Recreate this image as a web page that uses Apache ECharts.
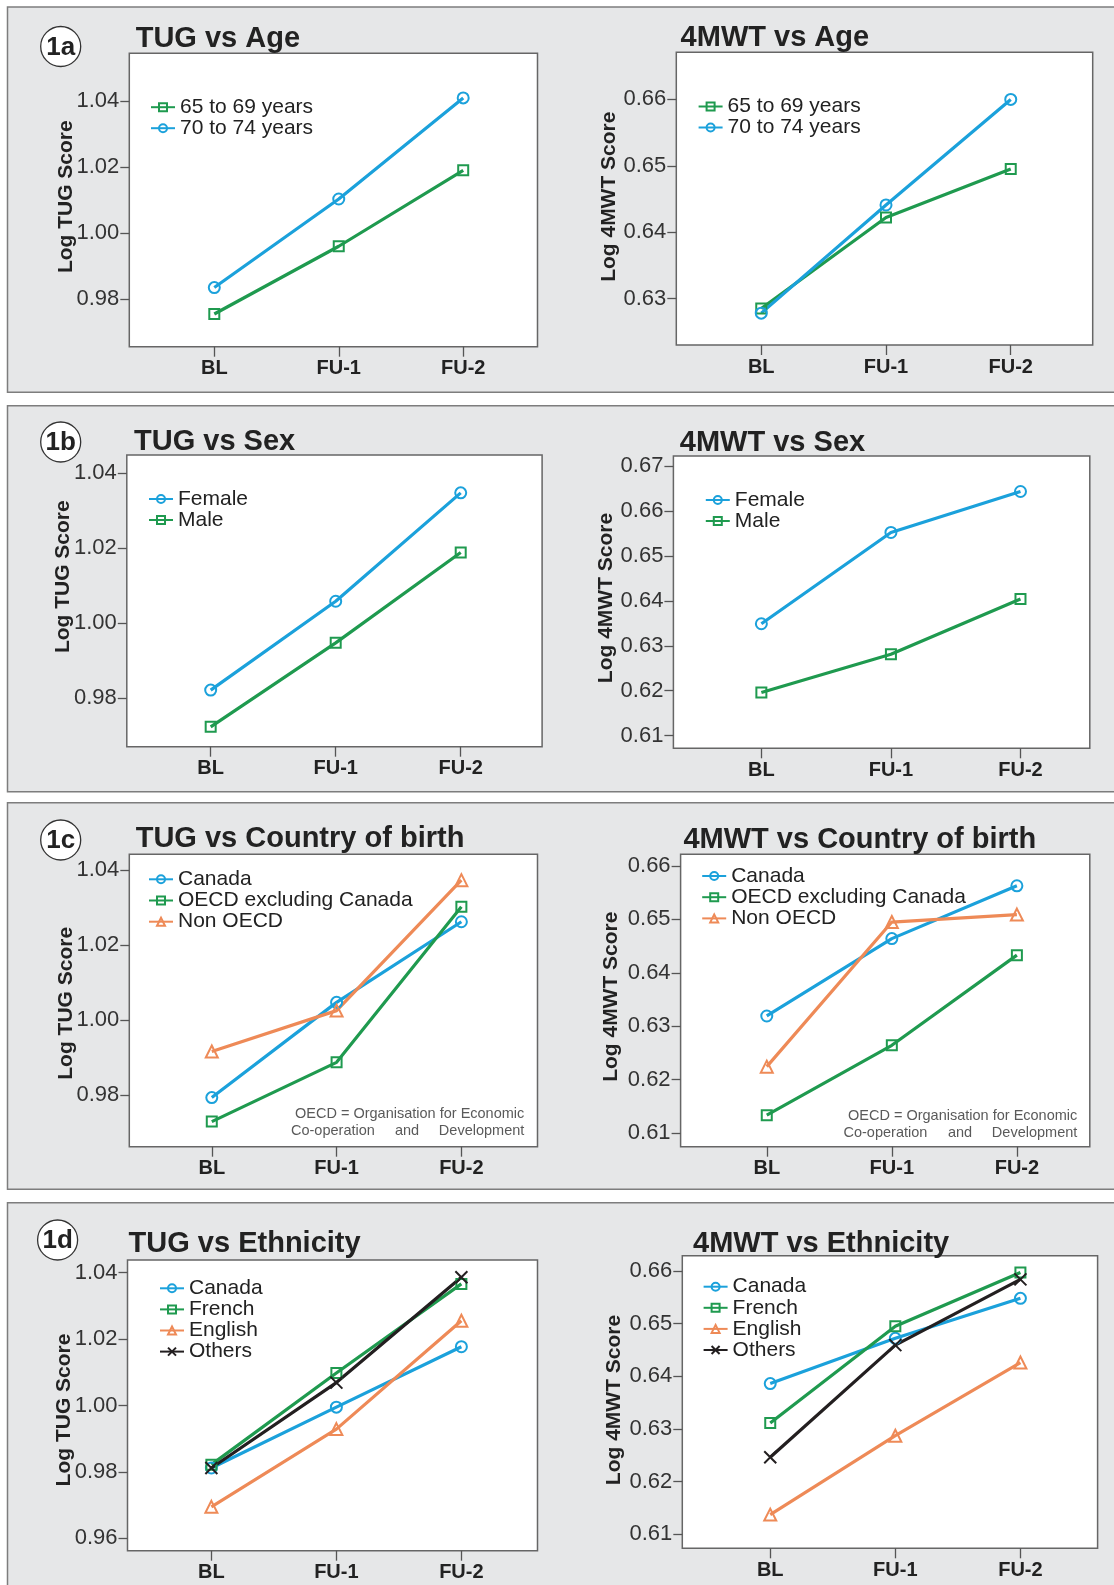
<!DOCTYPE html>
<html>
<head>
<meta charset="utf-8">
<script src="https://cdn.jsdelivr.net/npm/echarts@6/dist/echarts.min.js"></script>
<style>html,body{margin:0;padding:0;background:#fff}#c{width:1114px;height:1585px}</style>
</head>
<body>
<div id="c"></div>
<script>
// ---------- data ----------
const categories = ['BL', 'FU-1', 'FU-2'];

const tugAge65 = [0.9755, 0.9960, 1.0190];
const tugAge70 = [0.9835, 1.0103, 1.0409];
const mwtAge65 = [0.6285, 0.6422, 0.6495];
const mwtAge70 = [0.6278, 0.6441, 0.6600];

const tugSexFemale = [0.9822, 1.0059, 1.0348];
const tugSexMale = [0.9724, 0.9948, 1.0189];
const mwtSexFemale = [0.6349, 0.6552, 0.6643];
const mwtSexMale = [0.6196, 0.6281, 0.6404];

const tugCobCanada = [0.9793, 1.0047, 1.0262];
const tugCobOecd = [0.9729, 0.9887, 1.0302];
const tugCobNonOecd = [0.9916, 1.0025, 1.0373];
const mwtCobCanada = [0.6319, 0.6464, 0.6563];
const mwtCobOecd = [0.6133, 0.6264, 0.6433];
const mwtCobNonOecd = [0.6224, 0.6495, 0.6509];

const tugEthCanada = [0.9812, 0.9995, 1.0177];
const tugEthFrench = [0.9822, 1.0098, 1.0366];
const tugEthEnglish = [0.9695, 0.9929, 1.0255];
const tugEthOthers = [0.9812, 1.0069, 1.0386];
const mwtEthCanada = [0.6386, 0.6472, 0.6548];
const mwtEthFrench = [0.6311, 0.6495, 0.6597];
const mwtEthEnglish = [0.6137, 0.6287, 0.6426];
const mwtEthOthers = [0.6246, 0.6459, 0.6584];

const tugTicksA = [0.98, 1.00, 1.02, 1.04];
const tugTicksD = [0.96, 0.98, 1.00, 1.02, 1.04];
const mwtTicksAge = [0.63, 0.64, 0.65, 0.66];
const mwtTicksSex = [0.61, 0.62, 0.63, 0.64, 0.65, 0.66, 0.67];
const mwtTicksCob = [0.61, 0.62, 0.63, 0.64, 0.65, 0.66];
const mwtTicksEth = [0.61, 0.62, 0.63, 0.64, 0.65, 0.66];

// ---------- styles / layout ----------
const FONT = '"Liberation Sans", Arial, Helvetica, sans-serif';
const COL = {blue: '#1ba1db', green: '#1f9a4f', orange: '#ee8a57', black: '#231f20'};
const SYM = {circle: 'circle', square: 'rect', triangle: 'triangle', cross: 'path://M0,0L10,10M10,0L0,10'};
const SYMSIZE = {circle: 11, square: 10, triangle: 12, cross: 12};

const plots = [
  {grid: [129.3, 53.3, 408.2, 293.4], x: [-0.683, 2.597], y: [0.9656, 1.0544], ticks: tugTicksA,
   series: [['65 to 69 years', tugAge65, 'green', 'square'], ['70 to 74 years', tugAge70, 'blue', 'circle']],
   legend: [150, 106.7, 20], title: ['TUG vs Age', 135.7, 36.7], yname: ['Log TUG Score', 66, 196.7]},
  {grid: [676.3, 52.3, 416.4, 292.7], x: [-0.681, 2.657], y: [0.6230, 0.6671], ticks: mwtTicksAge,
   series: [['65 to 69 years', mwtAge65, 'green', 'square'], ['70 to 74 years', mwtAge70, 'blue', 'circle']],
   legend: [697.6, 106, 20], title: ['4MWT vs Age', 680.6, 36.2], yname: ['Log 4MWT Score', 609.4, 196.7]},
  {grid: [126.8, 455, 415.3, 291.7], x: [-0.671, 2.651], y: [0.9671, 1.0449], ticks: tugTicksA,
   series: [['Female', tugSexFemale, 'blue', 'circle'], ['Male', tugSexMale, 'green', 'square']],
   legend: [148, 499, 21], title: ['TUG vs Sex', 134, 440], yname: ['Log TUG Score', 63.6, 576.7]},
  {grid: [673.4, 456, 416.4, 292.3], x: [-0.679, 2.535], y: [0.6072, 0.6722], ticks: mwtTicksSex,
   series: [['Female', mwtSexFemale, 'blue', 'circle'], ['Male', mwtSexMale, 'green', 'square']],
   legend: [704.8, 500, 21], title: ['4MWT vs Sex', 679.8, 441], yname: ['Log 4MWT Score', 605.8, 598]},
  {grid: [129.3, 854.3, 408.2, 292.4], x: [-0.661, 2.610], y: [0.9662, 1.0442], ticks: tugTicksA,
   series: [['Canada', tugCobCanada, 'blue', 'circle'], ['OECD excluding Canada', tugCobOecd, 'green', 'square'], ['Non OECD', tugCobNonOecd, 'orange', 'triangle']],
   legend: [148, 879.3, 21.2], title: ['TUG vs Country of birth', 135.7, 836.7], yname: ['Log TUG Score', 66, 1003.3],
   note: [291, 407, 524.3, 1114.3, 1131]},
  {grid: [680.6, 854.3, 409.2, 292.4], x: [-0.689, 2.583], y: [0.6074, 0.6622], ticks: mwtTicksCob,
   series: [['Canada', mwtCobCanada, 'blue', 'circle'], ['OECD excluding Canada', mwtCobOecd, 'green', 'square'], ['Non OECD', mwtCobNonOecd, 'orange', 'triangle']],
   legend: [701.2, 876, 21.2], title: ['4MWT vs Country of birth', 683.4, 838.3], yname: ['Log 4MWT Score', 611.2, 996.7],
   note: [843.5, 960, 1077.3, 1116, 1132.7]},
  {grid: [127.5, 1260, 410, 290.7], x: [-0.671, 2.609], y: [0.9563, 1.0438], ticks: tugTicksD,
   series: [['Canada', tugEthCanada, 'blue', 'circle'], ['French', tugEthFrench, 'green', 'square'], ['English', tugEthEnglish, 'orange', 'triangle'], ['Others', tugEthOthers, 'black', 'cross']],
   legend: [159, 1288.3, 21.1], title: ['TUG vs Ethnicity', 128.6, 1241.7], yname: ['Log TUG Score', 64.3, 1410]},
  {grid: [682.3, 1255.7, 415.3, 292.6], x: [-0.703, 2.617], y: [0.6073, 0.6629], ticks: mwtTicksEth,
   series: [['Canada', mwtEthCanada, 'blue', 'circle'], ['French', mwtEthFrench, 'green', 'square'], ['English', mwtEthEnglish, 'orange', 'triangle'], ['Others', mwtEthOthers, 'black', 'cross']],
   legend: [702.6, 1286.7, 21.1], title: ['4MWT vs Ethnicity', 693, 1241.7], yname: ['Log 4MWT Score', 614.7, 1400]}
];

const panels = [[7.5, 7, 385.3, '1a', 60.7, 46.5], [7.5, 405.7, 386, '1b', 60.7, 442], [7.5, 802.7, 386.6, '1c', 60.7, 840], [7.5, 1202.7, 430, '1d', 57.6, 1240]];

// ---------- build option ----------
const grids = [], xAxes = [], yAxes = [], series = [], titles = [], legends = [], graphics = [];

panels.forEach(p => {
  graphics.push({type: 'rect', z: -10, shape: {x: p[0], y: p[1], width: 1130, height: p[2]},
    style: {fill: '#e6e7e8', stroke: '#7d7d7d', lineWidth: 1.5}});
  graphics.push({type: 'circle', z: 5, shape: {cx: p[4], cy: p[5], r: 20},
    style: {fill: '#fff', stroke: '#333', lineWidth: 1.3}});
  graphics.push({type: 'text', z: 6, x: p[4], y: p[5] + 1,
    style: {text: p[3], font: 'bold 26px ' + FONT, fill: '#222', textAlign: 'center', textVerticalAlign: 'middle'}});
});

plots.forEach((pl, i) => {
  grids.push({left: pl.grid[0], top: pl.grid[1], width: pl.grid[2], height: pl.grid[3],
    show: true, backgroundColor: '#fff', borderColor: '#666', borderWidth: 1.5, containLabel: false, outerBoundsMode: 'none'});
  xAxes.push({type: 'value', gridIndex: i, min: pl.x[0], max: pl.x[1], position: 'bottom',
    axisLine: {show: false, onZero: false}, splitLine: {show: false},
    axisTick: {show: true, customValues: [0, 1, 2], length: 10, lineStyle: {color: '#555', width: 1.3}},
    axisLabel: {customValues: [0, 1, 2], formatter: v => categories[Math.round(v)], margin: 12,
      fontSize: 20, fontWeight: 'bold', color: '#222', fontFamily: FONT}});
  yAxes.push({type: 'value', gridIndex: i, min: pl.y[0], max: pl.y[1], position: 'left',
    axisLine: {show: false, onZero: false}, splitLine: {show: false},
    axisTick: {show: true, customValues: pl.ticks, length: 9, lineStyle: {color: '#555', width: 1.3}},
    axisLabel: {customValues: pl.ticks, formatter: v => v.toFixed(2), margin: 10,
      fontSize: 22, color: '#333', fontFamily: FONT}});
  pl.series.forEach(s => {
    const c = COL[s[2]];
    series.push({type: 'line', name: s[0], xAxisIndex: i, yAxisIndex: i,
      data: s[1].map((v, k) => [k, v]),
      symbol: SYM[s[3]], symbolSize: SYMSIZE[s[3]], showAllSymbol: true,
      lineStyle: {color: c, width: 3.2},
      itemStyle: {color: 'rgba(255,255,255,0)', borderColor: c, borderWidth: 2},
      emphasis: {disabled: true}, animation: false, silent: true});
  });
  titles.push({text: pl.title[0], left: pl.title[1], top: pl.title[2] - 12.5, padding: 0,
    textStyle: {fontSize: 29, fontWeight: 'bold', color: '#222', fontFamily: FONT}});
  const sp = pl.legend[2];
  legends.push({left: pl.legend[0], top: pl.legend[1] - sp / 2, orient: 'vertical', padding: 0,
    itemWidth: 24, itemHeight: 10, itemGap: 0, selectedMode: false,
    data: pl.series.map(s => s[0]),
    textStyle: {fontSize: 21, lineHeight: sp, color: '#222', fontFamily: FONT}});
  graphics.push({type: 'text', z: 6, x: pl.yname[1], y: pl.yname[2], rotation: Math.PI / 2,
    style: {text: pl.yname[0], font: 'bold 21px ' + FONT, fill: '#222', textAlign: 'center', textVerticalAlign: 'middle'}});
  if (pl.note) {
    const n = pl.note;
    const f = '14.5px ' + FONT;
    graphics.push({type: 'text', z: 6, x: n[2], y: n[3], style: {text: 'OECD = Organisation for Economic', font: f, fill: '#5a5a5a', textAlign: 'right', textVerticalAlign: 'middle'}});
    graphics.push({type: 'text', z: 6, x: n[0], y: n[4], style: {text: 'Co-operation', font: f, fill: '#5a5a5a', textAlign: 'left', textVerticalAlign: 'middle'}});
    graphics.push({type: 'text', z: 6, x: n[1], y: n[4], style: {text: 'and', font: f, fill: '#5a5a5a', textAlign: 'center', textVerticalAlign: 'middle'}});
    graphics.push({type: 'text', z: 6, x: n[2], y: n[4], style: {text: 'Development', font: f, fill: '#5a5a5a', textAlign: 'right', textVerticalAlign: 'middle'}});
  }
});

const chart = echarts.init(document.getElementById('c'), null, {renderer: 'canvas', width: 1114, height: 1585});
chart.setOption({
  backgroundColor: '#ffffff',
  animation: false,
  title: titles,
  legend: legends,
  grid: grids,
  xAxis: xAxes,
  yAxis: yAxes,
  series: series,
  graphic: graphics
});
</script>
</body>
</html>
